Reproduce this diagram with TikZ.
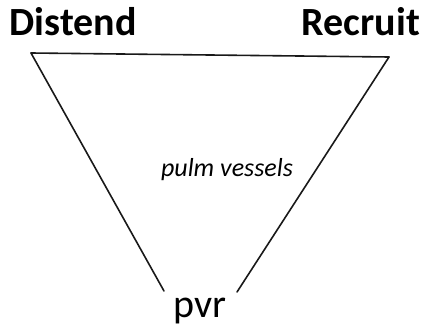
\documentclass[tikz,border=0pt]{standalone}
\usepackage{fontspec}
\setmainfont{Carlito}
\begin{document}
\begin{tikzpicture}[x=1pt,y=-1pt,
  edge/.style={draw=black!90,line width=1.6pt,line cap=round},
  corner/.style={font=\fontsize{40}{40}\selectfont\bfseries,anchor=base,inner sep=0pt},
  inner/.style={font=\fontsize{26}{26}\selectfont\itshape,anchor=base,inner sep=0pt},
  bottom/.style={font=\fontsize{40}{40}\selectfont,anchor=base,inner sep=0pt}]
\useasboundingbox (0,0) rectangle (425,326);
% vertices of the inverted triangle
\coordinate (tl) at (31,53);
\coordinate (tr) at (389,57);
\coordinate (bl) at (164,291);
\coordinate (br) at (237,292);
% labels
\node[corner] (distend) at (73,36) {Distend};
\node[corner] (recruit) at (361,36) {Recruit};
\node[inner] (vessels) at (227,176) {pulm vessels};
\node[bottom] (pvr) at (200,317) {pvr};
% sides
\draw[edge] (tl) -- (tr);
\draw[edge] (tl) -- (bl);
\draw[edge] (tr) -- (br);
\end{tikzpicture}
\end{document}
